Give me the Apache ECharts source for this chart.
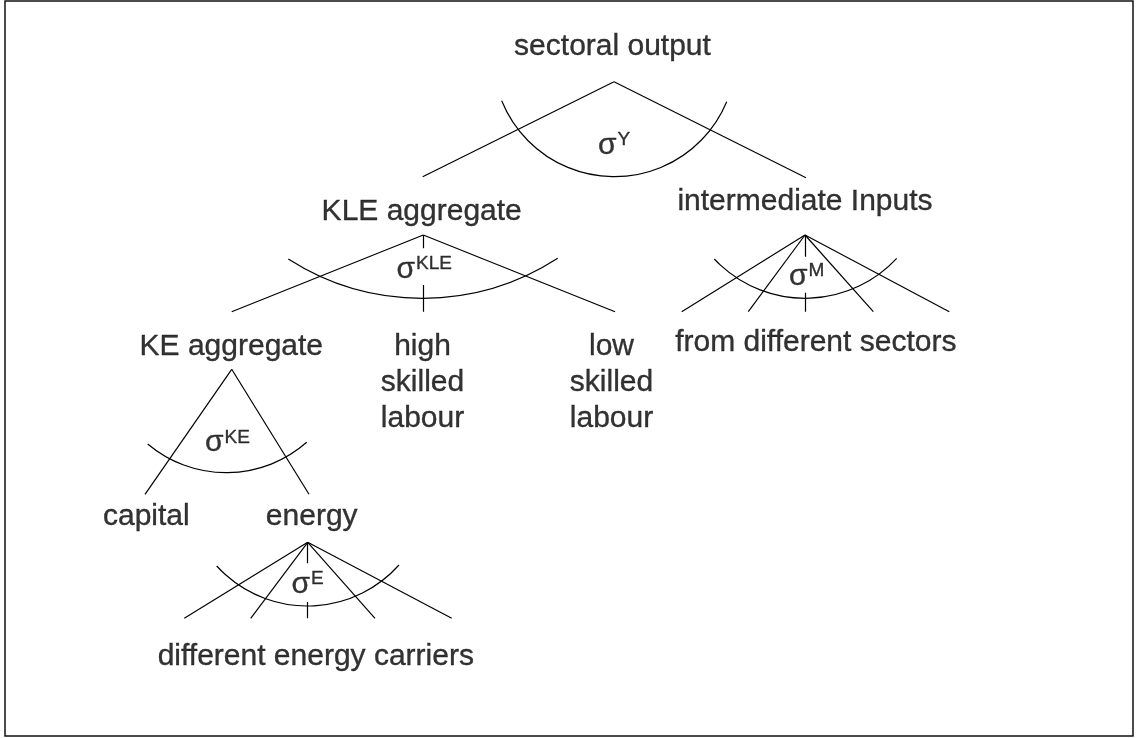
<!DOCTYPE html>
<html><head><meta charset="utf-8">
<script src="https://cdn.jsdelivr.net/npm/echarts@6/dist/echarts.min.js"></script>
<style>html,body{margin:0;padding:0;background:#fff}#c{width:1139px;height:738px}</style>
</head><body><div id="c"></div>
<script>
// Node texts of the nesting tree
const nodeNames = ['sectoral output','KLE aggregate','intermediate Inputs','KE aggregate','high\nskilled\nlabour','low\nskilled\nlabour','from different sectors','capital','energy','different energy carriers'];
const nodeX = [612.5, 421.7, 805, 231.3, 422.5, 611.5, 815.8, 146.3, 311.7, 315.8];
const nodeY = [46.3, 211.9, 201.8, 346.3, 382.9, 382.9, 343.2, 517.1, 517.1, 656.3];
// Elasticity of substitution labels
const sigmaSup = ['Y','KLE','M','KE','E'];
const sigmaX = [614, 424.2, 806.7, 227.5, 307.5];
const sigmaY = [145.6, 269.6, 276.3, 442.9, 584.6];
// Branch segments [x1,y1,x2,y2]
const branches = [
 [614,81.7,422.7,176.7],[614,81.7,806,177.7],
 [423.3,235,231.7,311.7],[423.3,235,615,311.7],[423.3,235,423.3,248.3],[423.3,285,423.3,311.7],
 [805,235,681.7,311.7],[805,235,748.3,311.7],[805,235,873.3,311.7],[805,235,949.3,311.7],[805,235,805,256.7],[805,292.7,805,311.7],
 [231.7,369.3,145,494.3],[231.7,369.3,309,494.3],
 [307.7,542.3,184.3,618.3],[307.7,542.3,250.7,618.3],[307.7,542.3,375,618.3],[307.7,542.3,451.7,618.3],[307.7,542.3,307.7,563.3],[307.7,602,307.7,618.3]
];
// Arcs: left end, lowest point, right end
const arcs = [
 [501.7,100.7,614,176.7,726.7,101.7],
 [288.3,259,423.3,298.3,557.7,258.3],
 [714.3,259,805,298.3,896.7,258.3],
 [147.7,444,225.7,472.7,306.7,442.3],
 [216.7,566,307.7,606,399,565]
];

const FONT = '"Liberation Sans", Arial, Helvetica, sans-serif';
const TXT = {color: '#000', fontFamily: FONT, textBorderColor: '#000', textBorderWidth: 0.35};
const chart = echarts.init(document.getElementById('c'));
chart.setOption({
  animation: false,
  backgroundColor: '#fff',
  grid: {left: 5, top: 1, width: 1128, height: 735, show: true, borderColor: '#111', borderWidth: 1.5, backgroundColor: 'transparent'},
  xAxis: {type: 'value', min: 5, max: 1133, show: false},
  yAxis: {type: 'value', min: 1, max: 736, inverse: true, show: false},
  series: [
    {
      type: 'lines', coordinateSystem: 'cartesian2d', silent: true,
      lineStyle: {color: '#000', width: 1.2, opacity: 1},
      data: branches.map(b => ({coords: [[b[0], b[1]], [b[2], b[3]]]}))
    },
    {
      type: 'custom', silent: true, clip: false,
      encode: {x: [0, 2, 4], y: [1, 3, 5]},
      data: arcs,
      renderItem: function (params, api) {
        const p1 = api.coord([api.value(0), api.value(1)]);
        const p2 = api.coord([api.value(2), api.value(3)]);
        const p3 = api.coord([api.value(4), api.value(5)]);
        const ax = p1[0], ay = p1[1], bx = p2[0], by = p2[1], cx = p3[0], cy = p3[1];
        const d = 2 * (ax * (by - cy) + bx * (cy - ay) + cx * (ay - by));
        const ux = ((ax*ax + ay*ay) * (by - cy) + (bx*bx + by*by) * (cy - ay) + (cx*cx + cy*cy) * (ay - by)) / d;
        const uy = ((ax*ax + ay*ay) * (cx - bx) + (bx*bx + by*by) * (ax - cx) + (cx*cx + cy*cy) * (bx - ax)) / d;
        const r = Math.hypot(ax - ux, ay - uy);
        const a1 = Math.atan2(cy - uy, cx - ux);
        const a2 = Math.atan2(ay - uy, ax - ux);
        return {type: 'arc', shape: {cx: ux, cy: uy, r: r, startAngle: a1, endAngle: a2, clockwise: true},
                style: {stroke: '#000', fill: null, lineWidth: 1.2}};
      }
    },
    {
      type: 'scatter', silent: true, z: 10, symbolSize: 1,
      itemStyle: {color: 'rgba(0,0,0,0)'},
      data: nodeX.map((x, i) => [x, nodeY[i], nodeNames[i]]),
      label: Object.assign({show: true, position: 'inside', formatter: p => p.data[2],
              fontSize: 30, lineHeight: 36, align: 'center'}, TXT)
    },
    {
      type: 'scatter', silent: true, z: 10, symbolSize: 1,
      itemStyle: {color: 'rgba(0,0,0,0)'},
      data: sigmaX.map((x, i) => [x, sigmaY[i], sigmaSup[i]]),
      label: Object.assign({show: true, position: 'inside',
              formatter: p => '{s|σ}{p|' + p.data[2] + '}',
              rich: {
                s: Object.assign({fontSize: 30, lineHeight: 30, verticalAlign: 'bottom'}, TXT),
                p: Object.assign({fontSize: 19, lineHeight: 19, verticalAlign: 'top', padding: [0, 0, 0, 1]}, TXT)
              }}, TXT)
    }
  ]
});
</script></body></html>
